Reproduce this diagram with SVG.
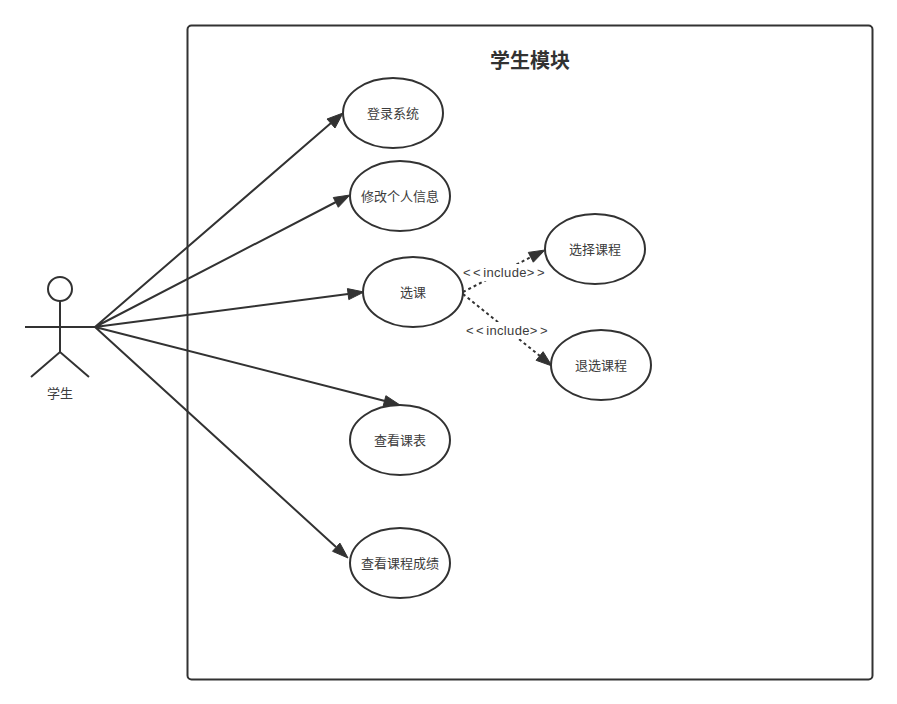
<svg xmlns="http://www.w3.org/2000/svg" width="897" height="704" viewBox="0 0 897 704">
<style>
.b{fill:#fff;stroke:#323232;stroke-width:2}
.s{fill:none;stroke:#323232;stroke-width:2}
.d{fill:none;stroke:#323232;stroke-width:2;stroke-dasharray:3 3}
.a{fill:#323232;stroke:#323232;stroke-width:1}
text{font-family:"Noto Sans CJK SC","Liberation Sans",sans-serif;fill:#3c3c3c;text-anchor:middle}
.t{font-size:13px}
.l{font-family:"Liberation Sans","Noto Sans CJK SC",sans-serif;font-size:13px}
.c{letter-spacing:2.5px}
.i{letter-spacing:.35px}
</style>
<rect width="897" height="704" fill="#fff"/>
<g id="module"><rect class="b" x="187.500" y="25.500" width="685" height="654" rx="4"/>
<text x="530" y="68" font-size="20" font-weight="700" style="fill:#323232">学生模块</text></g>
<g id="actor">
<circle class="s" cx="60" cy="289" r="12"/>
<path class="s" d="M60 301V352M25 327H95M31 377L60 352L89 377"/>
<text class="t" x="60" y="398">学生</text></g>
<g id="connectors">
<path class="s" d="M95 327L331 123M95 327L336 202M95 327L348 294M95 327L385 401M95 327L336 547"/>
<path class="a" d="M343 113L335 128L327 119ZM350 195L338.300 207.300L333.300 197.500ZM364 292L348.800 299.600L347.400 288.600ZM400 405L383.100 406.300L385.900 395.700ZM348 558L332.500 551.300L339.900 543.100Z"/>
<path class="d" d="M463 292L531 257M463 294L540 356"/>
<path class="a" d="M545 250L533.300 262.200L528.300 252.400ZM552 366L536.100 360.300L543.100 351.700Z"/>
<rect x="463" y="264" width="82" height="17" fill="#fff"/><rect x="467" y="322" width="82" height="17" fill="#fff"/>
<text class="l" x="505" y="277"><tspan class="c">&lt;&lt;</tspan><tspan class="i">include</tspan><tspan class="c">&gt;&gt;</tspan></text>
<text class="l" x="508" y="335"><tspan class="c">&lt;&lt;</tspan><tspan class="i">include</tspan><tspan class="c">&gt;&gt;</tspan></text>
</g>
<g id="n1"><ellipse class="b" cx="393" cy="113" rx="50" ry="35"/><text class="t" x="393" y="118">登录系统</text></g>
<g id="n2"><ellipse class="b" cx="400" cy="196" rx="50" ry="35"/><text class="t" x="400" y="201">修改个人信息</text></g>
<g id="n3"><ellipse class="b" cx="413" cy="292" rx="50" ry="35"/><text class="t" x="413" y="297">选课</text></g>
<g id="n4"><ellipse class="b" cx="595" cy="249" rx="50" ry="35"/><text class="t" x="595" y="254">选择课程</text></g>
<g id="n5"><ellipse class="b" cx="601" cy="365" rx="50" ry="35"/><text class="t" x="601" y="370">退选课程</text></g>
<g id="n6"><ellipse class="b" cx="400" cy="440" rx="50" ry="35"/><text class="t" x="400" y="445">查看课表</text></g>
<g id="n7"><ellipse class="b" cx="400" cy="563" rx="50" ry="35"/><text class="t" x="400" y="568">查看课程成绩</text></g>
</svg>
